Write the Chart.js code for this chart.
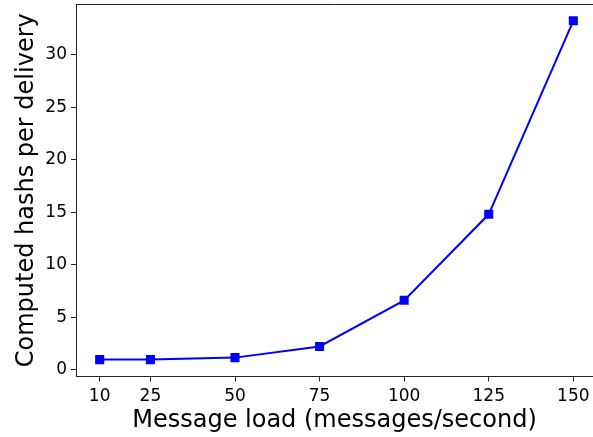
<!DOCTYPE html>
<html>
<head>
<meta charset="utf-8">
<script src="https://cdn.jsdelivr.net/npm/chart.js@4"></script>
<style>
  html, body { margin: 0; padding: 0; background: #fff; overflow: hidden; }
  #wrap { width: 593px; height: 437px; }
</style>
</head>
<body>
<div id="wrap"><canvas id="c" width="593" height="437" style="width:593px;height:437px"></canvas></div>
<script>
const messageLoad = [10, 25, 50, 75, 100, 125, 150];
const hashesPerDelivery = [0.95, 0.95, 1.14, 2.2, 6.6, 14.8, 33.25];
const xTicks = [10, 25, 50, 75, 100, 125, 150];
const yTicks = [0, 5, 10, 15, 20, 25, 30];

const FONT = "'DejaVu Sans', sans-serif";

// top spine (the right spine lies just outside the cropped reference image)
const frame = {
  id: 'frame',
  afterDraw(chart) {
    const {ctx, chartArea: a} = chart;
    ctx.save();
    ctx.strokeStyle = '#222';
    ctx.lineWidth = 1;
    ctx.beginPath();
    ctx.moveTo(a.left, a.top + 0.5);
    ctx.lineTo(a.right, a.top + 0.5);
    ctx.stroke();
    ctx.restore();
  }
};

new Chart(document.getElementById('c'), {
  type: 'line',
  data: {
    datasets: [{
      data: messageLoad.map((x, i) => ({x, y: hashesPerDelivery[i]})),
      borderColor: '#0000ff',
      backgroundColor: '#0000ff',
      borderWidth: 2,
      pointStyle: 'rect',
      pointRadius: 6.4,
      pointHoverRadius: 6.4,
      pointBorderWidth: 0,
      tension: 0,
      fill: false
    }]
  },
  options: {
    responsive: false,
    animation: false,
    events: [],
    layout: { autoPadding: false, padding: { top: 4, right: 0, left: 0, bottom: 0 } },
    plugins: { legend: { display: false }, tooltip: { enabled: false } },
    scales: {
      x: {
        type: 'linear',
        min: 3, max: 155.82,
        afterBuildTicks: s => { s.ticks = xTicks.map(v => ({value: v})); },
        afterFit: s => { s.height = 437 - 376.5; s.paddingLeft = 0; s.paddingRight = 0; },
        grid: { drawOnChartArea: false, drawTicks: true, tickLength: 5, color: '#222', tickWidth: 1 },
        border: { display: true, color: '#222', width: 1 },
        ticks: { color: '#000', font: { family: FONT, size: 17 }, padding: 5, maxRotation: 0, autoSkip: false },
        title: { display: true, text: 'Message load (messages/second)', color: '#000',
                 font: { family: FONT, size: 24 }, padding: { top: 0, bottom: 2 } }
      },
      y: {
        type: 'linear',
        min: -0.66, max: 34.85,
        afterBuildTicks: s => { s.ticks = yTicks.map(v => ({value: v})); },
        afterFit: s => { s.width = 76; s.paddingTop = 0; s.paddingBottom = 0; },
        grid: { drawOnChartArea: false, drawTicks: true, tickLength: 5, color: '#222', tickWidth: 1 },
        border: { display: true, color: '#222', width: 1 },
        ticks: { color: '#000', font: { family: FONT, size: 17 }, padding: 4, autoSkip: false },
        title: { display: true, text: 'Computed hashs per delivery', color: '#000',
                 font: { family: FONT, size: 24 }, padding: { top: 12, bottom: 0 } }
      }
    }
  },
  plugins: [frame]
});
</script>
</body>
</html>
